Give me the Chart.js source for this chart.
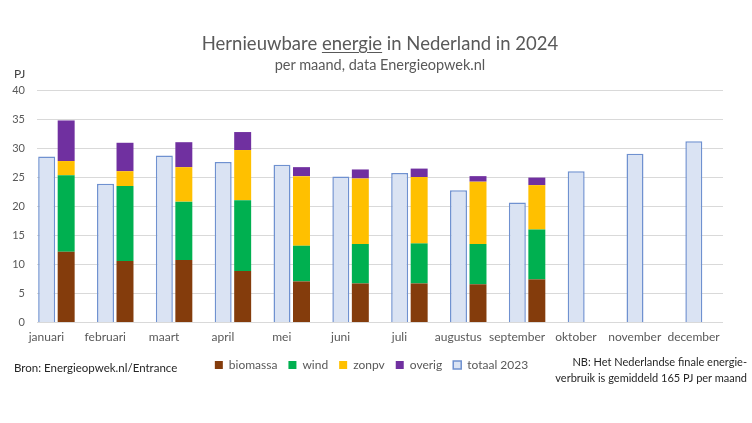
<!DOCTYPE html>
<html>
<head>
<meta charset="utf-8">
<script src="https://cdn.jsdelivr.net/npm/chart.js@4"></script>
<style>
  body { margin: 0; background: #fff; font-family: Lato, "Open Sans", sans-serif; }
  #wrap { position: relative; width: 752px; height: 423px; }
  canvas { position: absolute; left: 0; top: 0; }
  .txt { position: absolute; white-space: nowrap; }
  #title { left: 0; width: 760px; top: 32px; text-align: center; font-size: 18.5px; color: #595959; }
  #title u { text-decoration-thickness: 1px; text-underline-offset: 2px; }
  #sub { left: 0; width: 760px; top: 56px; text-align: center; font-size: 14.5px; color: #595959; }
  #pj { left: 14px; top: 66px; font-size: 12px; color: #404040; }
  #bron { left: 14px; top: 361px; font-size: 11.5px; color: #262626; }
  #nb { right: 5px; top: 354px; font-size: 11px; line-height: 16px; color: #262626; text-align: right; }
</style>
</head>
<body>
<div id="wrap">
  <canvas id="myChart" width="752" height="423"></canvas>
  <div class="txt" id="title">Hernieuwbare <u>energie</u> in Nederland in 2024</div>
  <div class="txt" id="sub">per maand, data Energieopwek.nl</div>
  <div class="txt" id="pj">PJ</div>
  <div class="txt" id="bron">Bron: Energieopwek.nl/Entrance</div>
  <div class="txt" id="nb">NB: Het Nederlandse finale energie-<br>verbruik is gemiddeld 165 PJ per maand</div>
</div>
<script>
const months = ['januari', 'februari', 'maart', 'april', 'mei', 'juni', 'juli', 'augustus', 'september', 'oktober', 'november', 'december'];
const biomassa = [12.1, 10.5, 10.7, 8.8, 7.0, 6.65, 6.65, 6.5, 7.35, null, null, null];
const wind = [13.2, 12.95, 10.05, 12.2, 6.15, 6.8, 6.9, 6.95, 8.6, null, null, null];
const zonpv = [2.45, 2.55, 5.95, 8.65, 12.0, 11.3, 11.45, 10.75, 7.65, null, null, null];
const overig = [7.0, 4.9, 4.3, 3.1, 1.55, 1.55, 1.45, 0.95, 1.3, null, null, null];
const totaal2023 = [28.55, 23.85, 28.7, 27.6, 27.1, 25.1, 25.7, 22.7, 20.6, 26.0, 29.0, 31.15];
const yTicks = [0, 5, 10, 15, 20, 25, 30, 35, 40];

const gridColor = '#d9d9d9';
const textColor = '#595959';

// horizontal gridlines, a bit shorter than the chart area like the excel original
const gridPlugin = {
    id: 'shortGrid',
    beforeDatasetsDraw(chart) {
        const { ctx, chartArea, scales } = chart;
        ctx.save();
        ctx.strokeStyle = gridColor;
        ctx.lineWidth = 1;
        yTicks.forEach(v => {
            const y = Math.round(scales.y.getPixelForValue(v)) + 0.5;
            ctx.beginPath();
            ctx.moveTo(chartArea.left + 10, y);
            ctx.lineTo(chartArea.right - 10, y);
            ctx.stroke();
        });
        ctx.restore();
    }
};

const barOpts = { stack: 'b', borderWidth: 0, categoryPercentage: 0.663, barPercentage: 0.87 };

new Chart(document.getElementById('myChart'), {
    type: 'bar',
    data: {
        labels: months,
        datasets: [
            { label: 'totaal 2023', data: totaal2023, stack: 'a', backgroundColor: '#dae3f3', borderColor: '#6f91d0', borderWidth: 1.5, categoryPercentage: 0.663, barPercentage: 0.87 },
            { label: 'biomassa', data: biomassa, backgroundColor: '#843c0c', ...barOpts },
            { label: 'wind', data: wind, backgroundColor: '#00b050', ...barOpts },
            { label: 'zonpv', data: zonpv, backgroundColor: '#ffc000', ...barOpts },
            { label: 'overig', data: overig, backgroundColor: '#7030a0', ...barOpts },
        ]
    },
    options: {
        responsive: false,
        devicePixelRatio: 1,
        animation: false,
        layout: { padding: { left: 10, right: 19, top: 90, bottom: 42 } },
        scales: {
            x: {
                grid: { display: false, drawTicks: false },
                border: { display: false },
                ticks: { color: textColor, font: { family: 'Lato', size: 12 }, padding: 8, labelOffset: -10, maxRotation: 0, autoSkip: false },
                afterFit: s => { s.height = 26; },
            },
            y: {
                stacked: true,
                min: 0,
                max: 40,
                grid: { display: false, drawTicks: false },
                border: { display: false },
                ticks: { stepSize: 5, color: textColor, font: { family: 'Lato', size: 11 }, padding: 2 },
                afterFit: s => { s.width = 17; },
            },
        },
        plugins: {
            legend: {
                position: 'bottom',
                labels: {
                    boxWidth: 8,
                    boxHeight: 8,
                    padding: 11,
                    color: textColor,
                    font: { family: 'Lato', size: 12 },
                    sort: (a, b) => (a.datasetIndex === 0) - (b.datasetIndex === 0),
                }
            },
            tooltip: { enabled: false },
        }
    },
    plugins: [gridPlugin]
});
</script>
</body>
</html>
